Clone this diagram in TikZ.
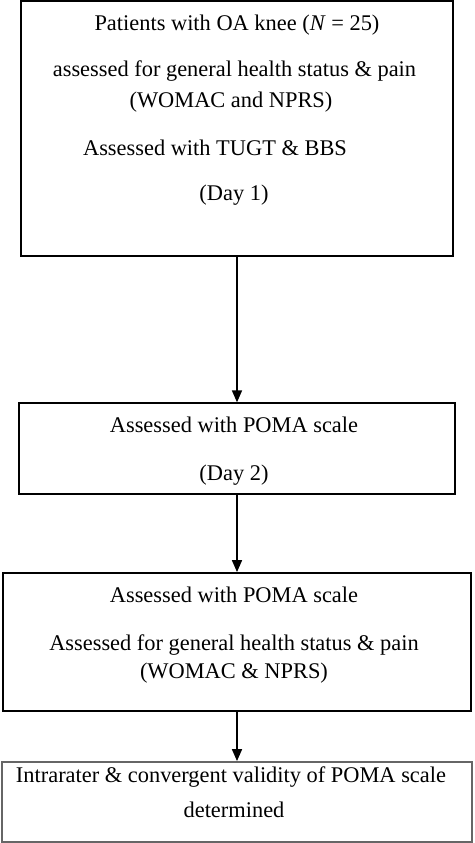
\documentclass[tikz,border=0pt]{standalone}
\usepackage{fontspec}
\setmainfont{Liberation Serif}
\usepackage{tikz}
\usetikzlibrary{arrows.meta}

\begin{document}
\begin{tikzpicture}[x=1pt, y=1pt]
    \tikzstyle{stagebox} = [rectangle, draw, line width=1.3pt, inner sep=0pt]
    \tikzstyle{txt} = [anchor=base, inner sep=0pt, font=\fontsize{22.4}{26}\selectfont]
    \tikzstyle{flow} = [line width=1.6pt, -{Triangle[length=12pt, width=10pt]}]

    \useasboundingbox (0,0) rectangle (474,-843);

    % Boxes
    \node[stagebox, minimum width=432pt, minimum height=255pt] (day1) at (237,-128.5) {};
    \node[stagebox, minimum width=436pt, minimum height=91pt] (day2) at (237,-448.5) {};
    \node[stagebox, line width=1.8pt, minimum width=468pt, minimum height=138pt] (retest) at (237,-642) {};
    \node[stagebox, draw=black!60, line width=1.8pt, minimum width=470pt, minimum height=80pt] (result) at (237,-802) {};

    % Day 1
    \node[txt] (pat) at (237,-31) {Patients with OA knee (\textit{N} = 25)};
    \node[txt] (gen) at (234.5,-77) {assessed for general health status \& pain};
    \node[txt] (wom) at (231,-107) {(WOMAC and NPRS)};
    \node[txt] (tug) at (215,-155) {Assessed with TUGT \& BBS};
    \node[txt] (d1) at (234,-200) {(Day 1)};

    % Day 2
    \node[txt] (poma) at (234,-432) {Assessed with POMA scale};
    \node[txt] (d2) at (234,-480) {(Day 2)};

    % Retest
    \node[txt] (poma2) at (234,-602) {Assessed with POMA scale};
    \node[txt] (gen2) at (234,-650) {Assessed for general health status \& pain};
    \node[txt] (wom2) at (234,-678) {(WOMAC \& NPRS)};

    % Result
    \node[txt] (val) at (231,-782) {Intrarater \& convergent validity of POMA scale};
    \node[txt] (det) at (234,-817) {determined};

    % Arrows
    \draw[flow] (day1.south) -- (day2.north);
    \draw[flow] (day2.south) -- (retest.north);
    \draw[flow] (retest.south) -- (result.north);
\end{tikzpicture}
\end{document}
